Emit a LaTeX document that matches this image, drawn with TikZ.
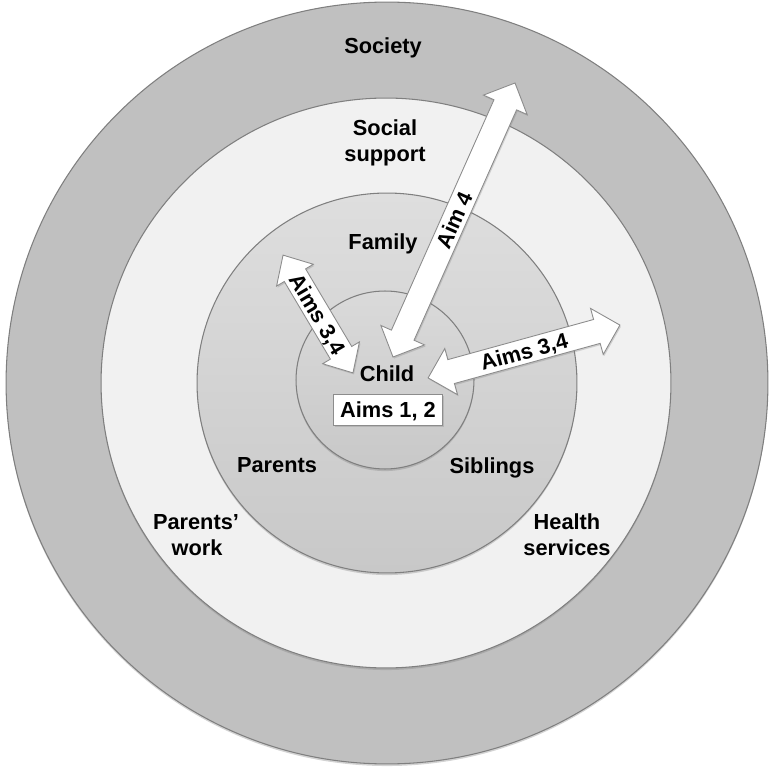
\documentclass[tikz,border=0pt]{standalone}
\usepackage{fontspec}
\setmainfont{Liberation Sans}
\usetikzlibrary{shapes.arrows,shadows}
\definecolor{ringline}{HTML}{7F7F7F}
\definecolor{arrowline}{HTML}{8C8C8C}
\definecolor{outerfill}{HTML}{C0C0C0}
\definecolor{socialfill}{HTML}{F1F1F1}
\definecolor{famtop}{HTML}{DEDEDE}
\definecolor{fambot}{HTML}{C8C8C8}
\definecolor{childtop}{HTML}{DADADA}
\definecolor{childbot}{HTML}{C8C8C8}
\begin{document}
\begin{tikzpicture}[x=0.02cm,y=0.02cm,
  ring/.style={circle, draw=ringline, line width=0.6pt, inner sep=0pt,
    drop shadow={shadow xshift=0pt, shadow yshift=-1.2pt, opacity=0.35}},
  lbl/.style={font=\fontsize{12.4}{14.7}\selectfont\bfseries, inner sep=0pt, anchor=base},
  barrow/.style={double arrow, draw=arrowline, fill=white, line width=0.5pt,
    font=\fontsize{12.4}{14.7}\selectfont\bfseries, text height=8.9pt, text depth=0pt,
    inner xsep=2pt, inner ysep=2.35pt, double arrow head extend=0.23cm,
    double arrow tip angle=90,
    drop shadow={shadow xshift=0.6pt, shadow yshift=-0.9pt, opacity=0.3}},
  aimbox/.style={draw=arrowline, fill=white, line width=0.5pt,
    font=\fontsize{12.4}{14.7}\selectfont\bfseries, text height=8.9pt, text depth=0pt,
    minimum width=2.18cm, minimum height=0.62cm, inner sep=0pt,
    drop shadow={shadow xshift=0.8pt, shadow yshift=-1pt, opacity=0.3}}
]
\useasboundingbox (0,0) rectangle (774,-773);
% rings
\node[ring, fill=outerfill, minimum size=15.24cm] (society) at (387,-383) {};
\node[ring, fill=socialfill, minimum size=11.40cm] (social) at (386,-383) {};
\node[ring, top color=famtop, bottom color=fambot, minimum size=7.6cm] (family) at (387,-383) {};
\node[ring, top color=childtop, bottom color=childbot, minimum size=3.56cm] (child) at (385,-380) {};
% arrows
\node[barrow, rotate=-59.3, minimum height=2.74cm, double arrow head extend=0.18cm,
  double arrow tip angle=85] (a34l) at (318,-314) {Aims 3,4};
\node[barrow, rotate=66.0, minimum height=6.0cm] (a4) at (454,-220) {Aim 4};
\node[barrow, rotate=15.4, minimum height=3.98cm] (a34r) at (524,-351.5) {Aims 3,4};
% labels
\node[lbl] (tsociety) at (383,-54) {Society};
\node[lbl] (tsocial1) at (385,-136) {Social};
\node[lbl] (tsocial2) at (385,-162) {support};
\node[lbl] (tfamily) at (383,-250) {Family};
\node[lbl] (tchild) at (387,-381.7) {Child};
\node[aimbox] (aims12) at (388,-409.5) {Aims 1, 2};
\node[lbl] (tparents) at (277,-472.5) {Parents};
\node[lbl] (tsiblings) at (492,-473) {Siblings};
\node[lbl] (tpw1) at (196,-529) {Parents’};
\node[lbl] (tpw2) at (197,-555) {work};
\node[lbl] (ths1) at (567,-529) {Health};
\node[lbl] (ths2) at (567,-555) {services};
\end{tikzpicture}
\end{document}
